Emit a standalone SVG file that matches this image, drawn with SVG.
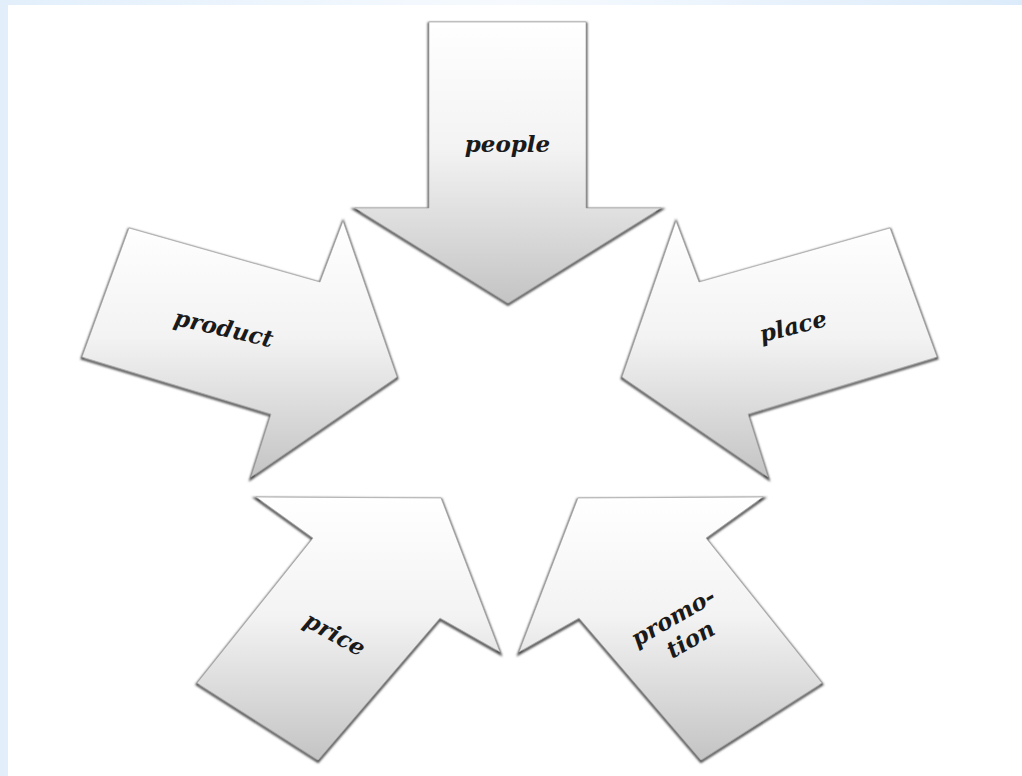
<svg xmlns="http://www.w3.org/2000/svg" xmlns:xlink="http://www.w3.org/1999/xlink" width="1022" height="776" viewBox="0 0 1022 776">
  <defs>
    <linearGradient id="bg" x1="0" y1="0" x2="1" y2="0">
      <stop offset="0" stop-color="#e2effb"/>
      <stop offset="0.5" stop-color="#f6fafe"/>
      <stop offset="1" stop-color="#dcebfa"/>
    </linearGradient>
    <linearGradient id="fillg" x1="0" y1="0" x2="0" y2="1">
      <stop offset="0" stop-color="#ffffff"/>
      <stop offset="0.45" stop-color="#f3f3f3"/>
      <stop offset="1" stop-color="#c4c4c4"/>
    </linearGradient>
    <filter id="rim" x="-10%" y="-10%" width="120%" height="120%">
      <feGaussianBlur stdDeviation="1.2"/>
    </filter>
    <style>
      .rim { fill: none; stroke: #444444; stroke-width: 2.6; filter: url(#rim); }
      .body { fill: url(#fillg); stroke: #a8a8a8; stroke-width: 0.7; }
      .lbl { font-family: "DejaVu Serif", "Liberation Serif", serif; font-weight: bold; font-style: italic; font-size: 23px; fill: #1a1a1a; text-anchor: middle; }
    </style>
  </defs>

  <rect x="0" y="0" width="1022" height="776" fill="url(#bg)"/>
  <rect x="8" y="5" width="1014" height="771" fill="#ffffff"/>

  <g id="connectors"/>

  <g id="node-people">
    <polygon class="rim" transform="translate(0,1.5)" points="429,22 586,22 586,208 661,208 508,303 355,208 429,208"/>
    <polygon class="body" points="429,22 586,22 586,208 661,208 508,303 355,208 429,208"/>
    <text class="lbl" x="507.5" y="152">people</text>
  </g>

  <g id="node-product">
    <polygon class="rim" transform="translate(0,1.5)" points="129,228 320,282 343,221 397,377 251,477 271,414 82,357"/>
    <polygon class="body" points="129,228 320,282 343,221 397,377 251,477 271,414 82,357"/>
    <text class="lbl" transform="translate(222,336) rotate(13)" x="0" y="0">product</text>
  </g>

  <g id="node-place">
    <polygon class="rim" transform="translate(0,1.5)" points="890,228 699,282 676,221 622,377 768,477 748,414 937,357"/>
    <polygon class="body" points="890,228 699,282 676,221 622,377 768,477 748,414 937,357"/>
    <text class="lbl" transform="translate(795,334) rotate(-14)" x="0" y="0">place</text>
  </g>

  <g id="node-price">
    <polygon class="rim" transform="translate(0,1.5)" points="256,497 441,498 500,652 440,618 318,760 197,683 313,538"/>
    <polygon class="body" points="256,497 441,498 500,652 440,618 318,760 197,683 313,538"/>
    <text class="lbl" transform="translate(331,641) rotate(29)" x="0" y="0">price</text>
  </g>

  <g id="node-promotion">
    <polygon class="rim" transform="translate(0,1.5)" points="763,497 578,498 519,652 579,618 701,760 822,683 706,538"/>
    <polygon class="body" points="763,497 578,498 519,652 579,618 701,760 822,683 706,538"/>
    <text class="lbl" transform="translate(677,624) rotate(-30)" x="0" y="0">promo-</text>
    <text class="lbl" transform="translate(677,624) rotate(-30)" x="4" y="28">tion</text>
  </g>
</svg>
